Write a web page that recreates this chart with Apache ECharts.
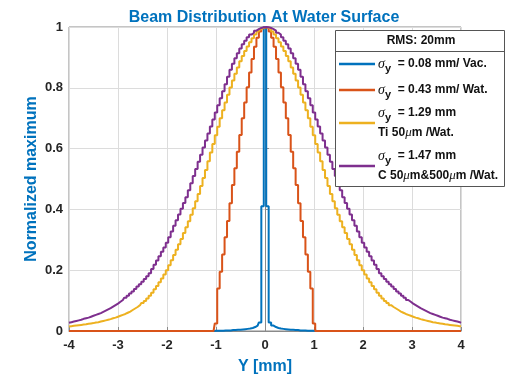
<!DOCTYPE html>
<html>
<head>
<meta charset="utf-8">
<script src="https://cdn.jsdelivr.net/npm/echarts@6/dist/echarts.min.js"></script>
<style>
  html, body { margin: 0; padding: 0; background: #fff; }
  #chart { width: 506px; height: 376px; }
</style>
</head>
<body>
<div id="chart"></div>
<script>
// Histogram bins: 0.05 mm wide, centred from -4 mm to +4 mm (161 bins)
const binStart = -4;
const binWidth = 0.05;
const binCount = 161;

const xTicks = [-4, -3, -2, -1, 0, 1, 2, 3, 4];
const yTicks = [0, 0.2, 0.4, 0.6, 0.8, 1];

const seriesNames = ['vac', 'wat', 'ti', 'c'];

// Normalised counts per bin, left to right
const beamVac = [
  0,0,0,0,0,0,0,0,0,0,
  0,0,0,0,0,0,0,0,0,0,
  0,0,0,0,0,0,0,0,0,0,
  0,0,0,0,0,0,0,0,0,0,
  0,0,0,0,0,0,0,0,0,0,
  0,0,0,0,0,0,0,0,0,0,
  0.001,0.001,0.001,0.001,0.002,0.002,0.002,0.003,0.003,0.004,
  0.004,0.005,0.006,0.007,0.008,0.010,0.013,0.018,0.028,0.410,
  1.000,
  0.410,0.028,0.018,0.013,0.010,0.008,0.007,0.006,0.005,0.004,
  0.004,0.003,0.003,0.002,0.002,0.002,0.001,0.001,0.001,0.001,
  0,0,0,0,0,0,0,0,0,0,
  0,0,0,0,0,0,0,0,0,0,
  0,0,0,0,0,0,0,0,0,0,
  0,0,0,0,0,0,0,0,0,0,
  0,0,0,0,0,0,0,0,0,0,
  0,0,0,0,0,0,0,0,0,0
];

const beamWat = [
  0,0,0,0,0,0,0,0,0,0,
  0,0,0,0,0,0,0,0,0,0,
  0,0,0,0,0,0,0,0,0,0,
  0,0,0,0,0,0,0,0,0,0,
  0,0,0,0,0,0,0,0,0,0,
  0,0,0,0,0,0,0,0,0,0,
  0.025,0.140,0.195,0.252,0.308,0.362,0.420,0.480,0.535,0.590,
  0.645,0.700,0.752,0.802,0.850,0.895,0.935,0.965,0.985,0.996,
  1.000,
  0.996,0.985,0.965,0.935,0.895,0.850,0.802,0.752,0.700,0.645,
  0.590,0.535,0.480,0.420,0.362,0.308,0.252,0.195,0.140,0.025,
  0,0,0,0,0,0,0,0,0,0,
  0,0,0,0,0,0,0,0,0,0,
  0,0,0,0,0,0,0,0,0,0,
  0,0,0,0,0,0,0,0,0,0,
  0,0,0,0,0,0,0,0,0,0,
  0,0,0,0,0,0,0,0,0,0
];

const beamTi = [
  0.015,0.016,0.017,0.018,0.019,0.020,0.021,0.022,0.024,0.025,
  0.026,0.028,0.029,0.031,0.033,0.035,0.037,0.039,0.042,0.044,
  0.047,0.050,0.053,0.056,0.060,0.064,0.069,0.074,0.079,0.085,
  0.092,0.099,0.107,0.116,0.126,0.137,0.148,0.160,0.173,0.186,
  0.200,0.216,0.233,0.250,0.267,0.285,0.303,0.322,0.341,0.361,
  0.382,0.404,0.427,0.451,0.477,0.503,0.530,0.558,0.587,0.615,
  0.644,0.672,0.700,0.726,0.752,0.777,0.801,0.824,0.846,0.867,
  0.887,0.905,0.921,0.936,0.950,0.963,0.975,0.985,0.993,0.998,
  1.000,
  0.998,0.993,0.985,0.975,0.963,0.950,0.936,0.921,0.905,0.887,
  0.867,0.846,0.824,0.801,0.777,0.752,0.726,0.700,0.672,0.644,
  0.615,0.587,0.558,0.530,0.503,0.477,0.451,0.427,0.404,0.382,
  0.361,0.341,0.322,0.303,0.285,0.267,0.250,0.233,0.216,0.200,
  0.186,0.173,0.160,0.148,0.137,0.126,0.116,0.107,0.099,0.092,
  0.085,0.079,0.074,0.069,0.064,0.060,0.056,0.053,0.050,0.047,
  0.044,0.042,0.039,0.037,0.035,0.033,0.031,0.029,0.028,0.026,
  0.025,0.024,0.022,0.021,0.020,0.019,0.018,0.017,0.016,0.015
];

const beamC = [
  0.027,0.029,0.031,0.033,0.035,0.037,0.040,0.042,0.044,0.047,
  0.050,0.053,0.056,0.059,0.063,0.067,0.071,0.075,0.080,0.085,
  0.090,0.096,0.102,0.109,0.116,0.123,0.130,0.138,0.146,0.154,
  0.162,0.171,0.180,0.190,0.204,0.218,0.232,0.246,0.261,0.275,
  0.290,0.308,0.327,0.346,0.364,0.383,0.402,0.421,0.440,0.463,
  0.486,0.510,0.533,0.557,0.580,0.604,0.627,0.650,0.673,0.696,
  0.719,0.743,0.766,0.789,0.812,0.836,0.859,0.879,0.897,0.914,
  0.929,0.943,0.955,0.966,0.975,0.981,0.988,0.993,0.997,0.999,
  1.000,
  0.999,0.997,0.993,0.988,0.981,0.975,0.966,0.955,0.943,0.929,
  0.914,0.897,0.879,0.859,0.836,0.812,0.789,0.766,0.743,0.719,
  0.696,0.673,0.650,0.627,0.604,0.580,0.557,0.533,0.510,0.486,
  0.463,0.440,0.421,0.402,0.383,0.364,0.346,0.327,0.308,0.290,
  0.275,0.261,0.246,0.232,0.218,0.204,0.190,0.180,0.171,0.162,
  0.154,0.146,0.138,0.130,0.123,0.116,0.109,0.102,0.096,0.090,
  0.085,0.080,0.075,0.071,0.067,0.063,0.059,0.056,0.053,0.050,
  0.047,0.044,0.042,0.040,0.037,0.035,0.033,0.031,0.029,0.027
];

const colors = ['#0072BD', '#D95319', '#EDB120', '#7E2F8E'];

const binCentres = [];
for (let i = 0; i < binCount; i++) binCentres.push(+(binStart + i * binWidth).toFixed(2));
const pairs = vals => binCentres.map((x, i) => [x, vals[i]]);

const FONT = '"Liberation Sans", Arial, sans-serif';
const SERIF = '"Liberation Serif", "Times New Roman", serif';
const BLUE = '#0072BD';

const rich = {
  t:   { fontFamily: FONT, fontWeight: 'bold', fontSize: 12, color: '#111', lineHeight: 20 },
  s:   { fontFamily: SERIF, fontStyle: 'italic', fontSize: 14, color: '#111', lineHeight: 20 },
  sub: { fontFamily: FONT, fontWeight: 'bold', fontSize: 11, color: '#111', lineHeight: 8, verticalAlign: 'bottom' },
  mu:  { fontFamily: SERIF, fontStyle: 'italic', fontSize: 13, color: '#111', lineHeight: 20 }
};

const legendText = {
  vac: '{s|σ}{sub|y}{t|  = 0.08 mm/ Vac.}',
  wat: '{s|σ}{sub|y}{t|  = 0.43 mm/ Wat.}',
  ti:  '{s|σ}{sub|y}{t|  = 1.29 mm}\n{t|Ti 50}{mu|μ}{t|m /Wat.}',
  c:   '{s|σ}{sub|y}{t|  = 1.47 mm}\n{t|C 50}{mu|μ}{t|m&500}{mu|μ}{t|m /Wat.}'
};
const legendTop = [57, 83, 106, 149];

const legends = seriesNames.map((name, i) => ({
  data: [name],
  left: 339,
  top: legendTop[i],
  padding: 0,
  orient: 'vertical',
  icon: 'rect',
  itemWidth: 36,
  itemHeight: 2.5,
  itemGap: 0,
  z: 20,
  selectedMode: false,
  formatter: n => legendText[n],
  textStyle: { rich: rich, padding: [0, 0, 0, -2] }
}));

const chart = echarts.init(document.getElementById('chart'), null, { renderer: 'canvas' });

chart.setOption({
  animation: false,
  backgroundColor: '#fff',
  title: {
    text: 'Beam Distribution At Water Surface',
    left: 259,
    top: 5,
    textAlign: 'center',
    textStyle: { fontFamily: FONT, fontWeight: 'bold', fontSize: 16, color: BLUE }
  },
  grid: {
    left: 69, right: 45, top: 27, bottom: 45,
    outerBoundsMode: 'none',
    show: true, borderColor: '#8a8a8a', borderWidth: 1, backgroundColor: 'transparent'
  },
  legend: legends,
  xAxis: {
    type: 'value',
    min: xTicks[0], max: xTicks[xTicks.length - 1], interval: 1,
    name: 'Y [mm]',
    nameLocation: 'middle',
    nameGap: 28,
    nameMoveOverlap: false,
    nameTextStyle: { fontFamily: FONT, fontWeight: 'bold', fontSize: 16, color: BLUE },
    axisLine: { show: true, lineStyle: { color: '#8a8a8a', width: 1 } },
    axisTick: { show: true, inside: true, length: 4, lineStyle: { color: '#8a8a8a' } },
    axisLabel: { fontFamily: FONT, fontWeight: 'bold', fontSize: 13, color: '#262626', margin: 8 },
    splitLine: { show: true, lineStyle: { color: '#dcdcdc', width: 1 } }
  },
  yAxis: {
    type: 'value',
    min: yTicks[0], max: yTicks[yTicks.length - 1], interval: 0.2,
    name: 'Normalized maximum',
    nameLocation: 'middle',
    nameGap: 29,
    nameMoveOverlap: false,
    nameTextStyle: { fontFamily: FONT, fontWeight: 'bold', fontSize: 16, color: BLUE },
    axisLine: { show: true, lineStyle: { color: '#8a8a8a', width: 1 } },
    axisTick: { show: true, inside: true, length: 4, lineStyle: { color: '#8a8a8a' } },
    axisLabel: {
      fontFamily: FONT, fontWeight: 'bold', fontSize: 13, color: '#262626', margin: 6,
      formatter: v => String(+v.toFixed(1))
    },
    splitLine: { show: true, lineStyle: { color: '#dcdcdc', width: 1 } }
  },
  series: [
    { name: 'vac', data: pairs(beamVac) },
    { name: 'wat', data: pairs(beamWat) },
    { name: 'ti',  data: pairs(beamTi) },
    { name: 'c',   data: pairs(beamC) }
  ].map((s, i) => ({
    ...s,
    type: 'line',
    step: 'middle',
    symbol: 'none',
    color: colors[i],
    lineStyle: { width: 2, color: colors[i] },
    z: 2 + i,
    clip: false
  })),
  graphic: [
    {
      type: 'group',
      z: 10,
      children: [
        { type: 'rect', shape: { x: 335.5, y: 30.5, width: 169, height: 156 },
          style: { fill: '#fff', stroke: '#555', lineWidth: 1 }, z: 10 },
        { type: 'line', shape: { x1: 335.5, y1: 51.5, x2: 504.5, y2: 51.5 },
          style: { stroke: '#555', lineWidth: 1 }, z: 11 },
        { type: 'text', x: 421, y: 41, z: 11,
          style: { text: 'RMS: 20mm', fill: '#111', font: 'bold 12px ' + FONT,
                   align: 'center', verticalAlign: 'middle' } }
      ]
    }
  ]
});
</script>
</body>
</html>
